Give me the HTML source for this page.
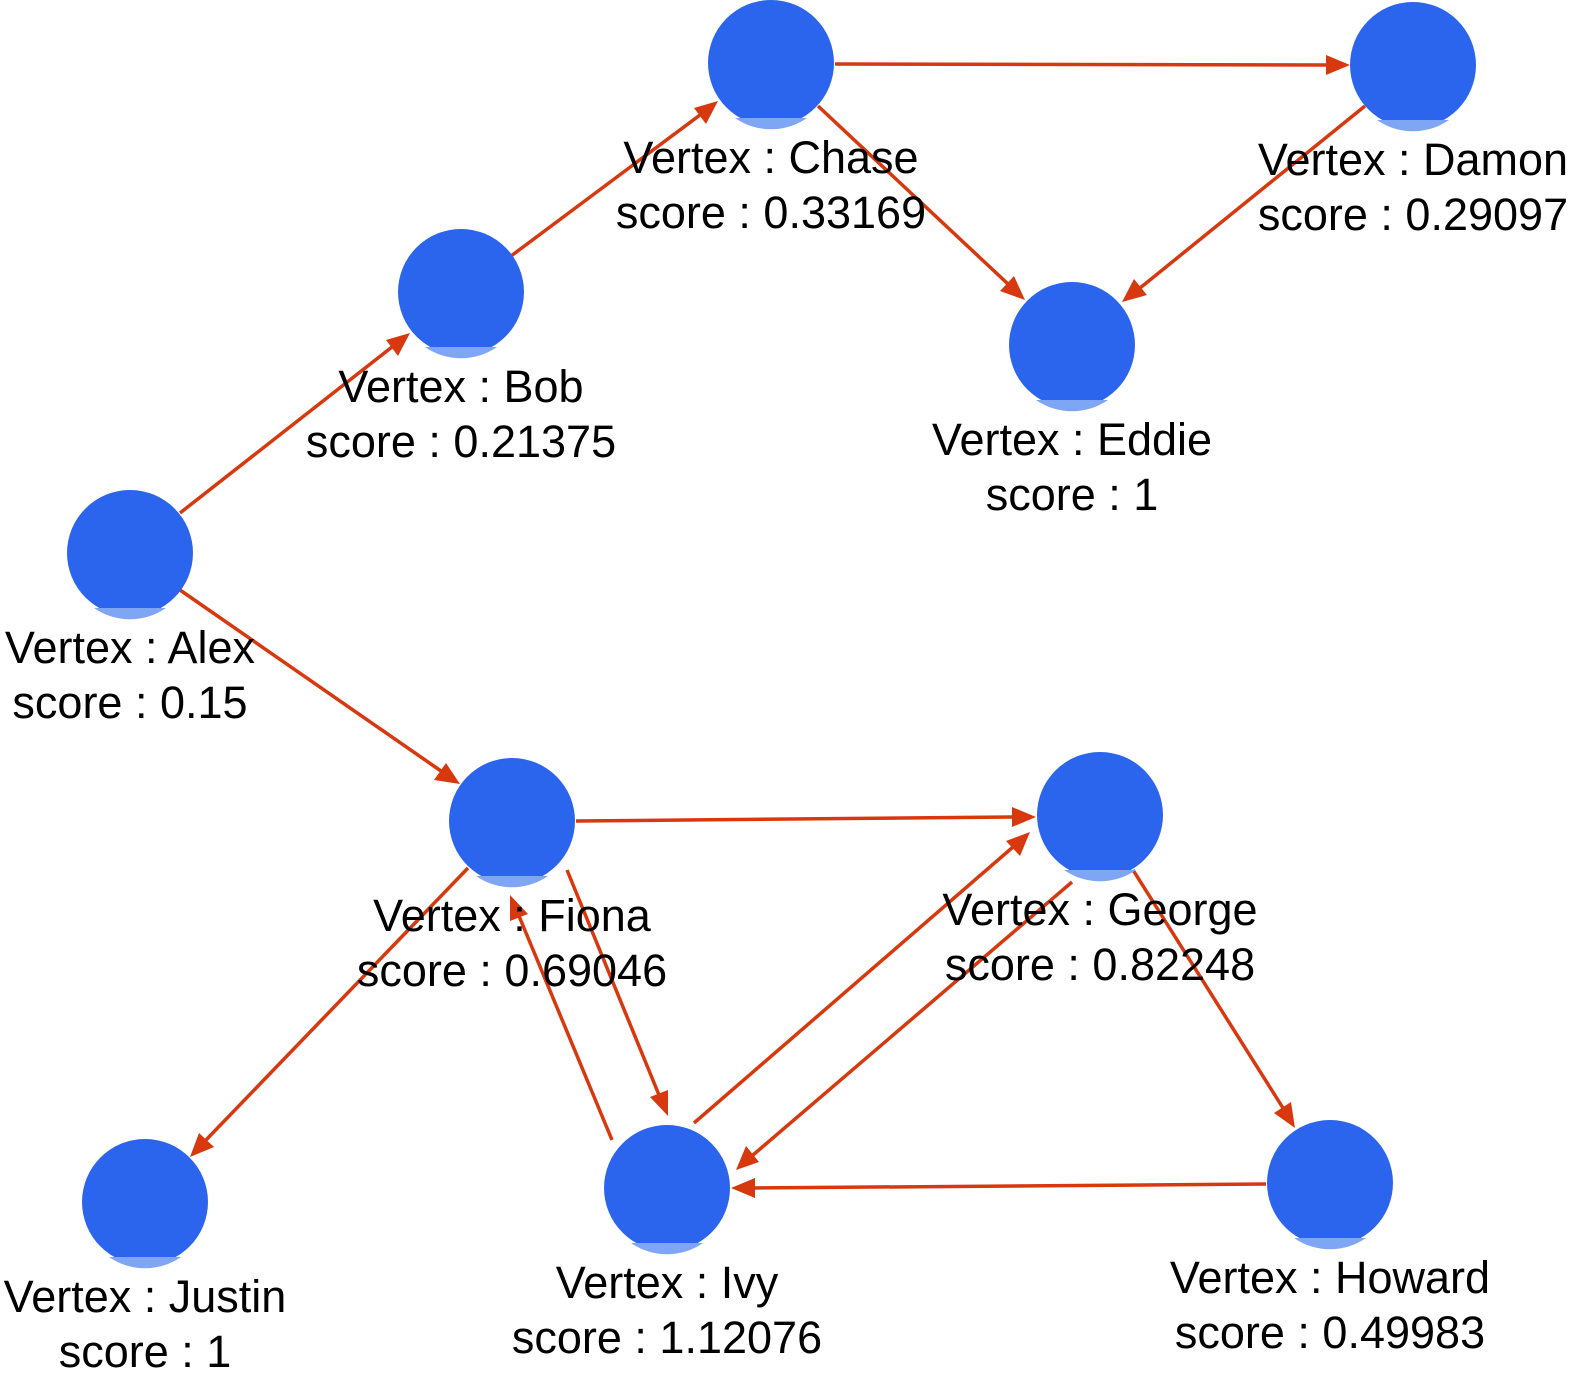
<!DOCTYPE html>
<html><head><meta charset="utf-8"><style>
html,body{margin:0;padding:0;background:#fff;width:1579px;height:1378px;overflow:hidden}
svg text{font-family:"Liberation Sans",sans-serif;font-size:45px;fill:#000;text-anchor:middle}
</style></head><body>
<svg width="1579" height="1378" viewBox="0 0 1579 1378" xmlns="http://www.w3.org/2000/svg">
<g stroke="#d8380e" stroke-width="3.5" fill="none">
<line x1="180" y1="513" x2="392" y2="347"/>
<line x1="511" y1="256" x2="700" y2="115"/>
<line x1="835" y1="64" x2="1326" y2="65"/>
<line x1="818" y1="106" x2="1008" y2="284"/>
<line x1="1365" y1="106" x2="1140" y2="288"/>
<line x1="180" y1="590" x2="441" y2="771"/>
<line x1="576" y1="821" x2="1012" y2="817"/>
<line x1="468" y1="868" x2="206" y2="1140"/>
<line x1="567" y1="870" x2="659" y2="1095"/>
<line x1="612" y1="1140" x2="519" y2="916"/>
<line x1="694" y1="1123" x2="1013" y2="847"/>
<line x1="1072" y1="882" x2="753" y2="1155"/>
<line x1="1133" y1="870" x2="1283" y2="1108"/>
<line x1="1266" y1="1184" x2="753" y2="1188"/>
</g>
<g fill="#d8380e">
<polygon points="410,333 398,356 386,340"/>
<polygon points="718,101 706,124 694,108"/>
<polygon points="1350,65 1326,75 1326,55"/>
<polygon points="1025,300 1000,291 1014,276"/>
<polygon points="1122,302 1134,279 1147,295"/>
<polygon points="460,784 434,780 446,763"/>
<polygon points="1036,817 1012,827 1012,807"/>
<polygon points="190,1157 199,1133 214,1147"/>
<polygon points="668,1116 650,1097 668,1090"/>
<polygon points="510,895 528,914 510,921"/>
<polygon points="1030,832 1020,856 1006,841"/>
<polygon points="736,1170 746,1146 759,1162"/>
<polygon points="1295,1128 1274,1113 1291,1102"/>
<polygon points="731,1188 755,1178 755,1198"/>
</g>
<g fill="#2c65ed">
<circle cx="771" cy="63" r="63"/>
<circle cx="1413" cy="65" r="63"/>
<circle cx="461" cy="292" r="63"/>
<circle cx="1072" cy="345" r="63"/>
<circle cx="130" cy="553" r="63"/>
<circle cx="512" cy="821" r="63"/>
<circle cx="1100" cy="815" r="63"/>
<circle cx="145" cy="1202" r="63"/>
<circle cx="667" cy="1188" r="63"/>
<circle cx="1330" cy="1183" r="63"/>
</g>
<g fill="#7fa6f5">
<path d="M735,118 A63,63 0 0 0 807,118 Z"/>
<path d="M1377,120 A63,63 0 0 0 1449,120 Z"/>
<path d="M425,347 A63,63 0 0 0 497,347 Z"/>
<path d="M1036,400 A63,63 0 0 0 1108,400 Z"/>
<path d="M94,608 A63,63 0 0 0 166,608 Z"/>
<path d="M476,876 A63,63 0 0 0 548,876 Z"/>
<path d="M1064,870 A63,63 0 0 0 1136,870 Z"/>
<path d="M109,1257 A63,63 0 0 0 181,1257 Z"/>
<path d="M631,1243 A63,63 0 0 0 703,1243 Z"/>
<path d="M1294,1238 A63,63 0 0 0 1366,1238 Z"/>
</g>
<text x="771" y="173">Vertex : Chase</text><text x="771" y="228">score : 0.33169</text>
<text x="1413" y="175">Vertex : Damon</text><text x="1413" y="230">score : 0.29097</text>
<text x="461" y="402">Vertex : Bob</text><text x="461" y="457">score : 0.21375</text>
<text x="1072" y="455">Vertex : Eddie</text><text x="1072" y="510">score : 1</text>
<text x="130" y="663">Vertex : Alex</text><text x="130" y="718">score : 0.15</text>
<text x="512" y="931">Vertex : Fiona</text><text x="512" y="986">score : 0.69046</text>
<text x="1100" y="925">Vertex : George</text><text x="1100" y="980">score : 0.82248</text>
<text x="145" y="1312">Vertex : Justin</text><text x="145" y="1367">score : 1</text>
<text x="667" y="1298">Vertex : Ivy</text><text x="667" y="1353">score : 1.12076</text>
<text x="1330" y="1293">Vertex : Howard</text><text x="1330" y="1348">score : 0.49983</text>
</svg>
</body></html>
